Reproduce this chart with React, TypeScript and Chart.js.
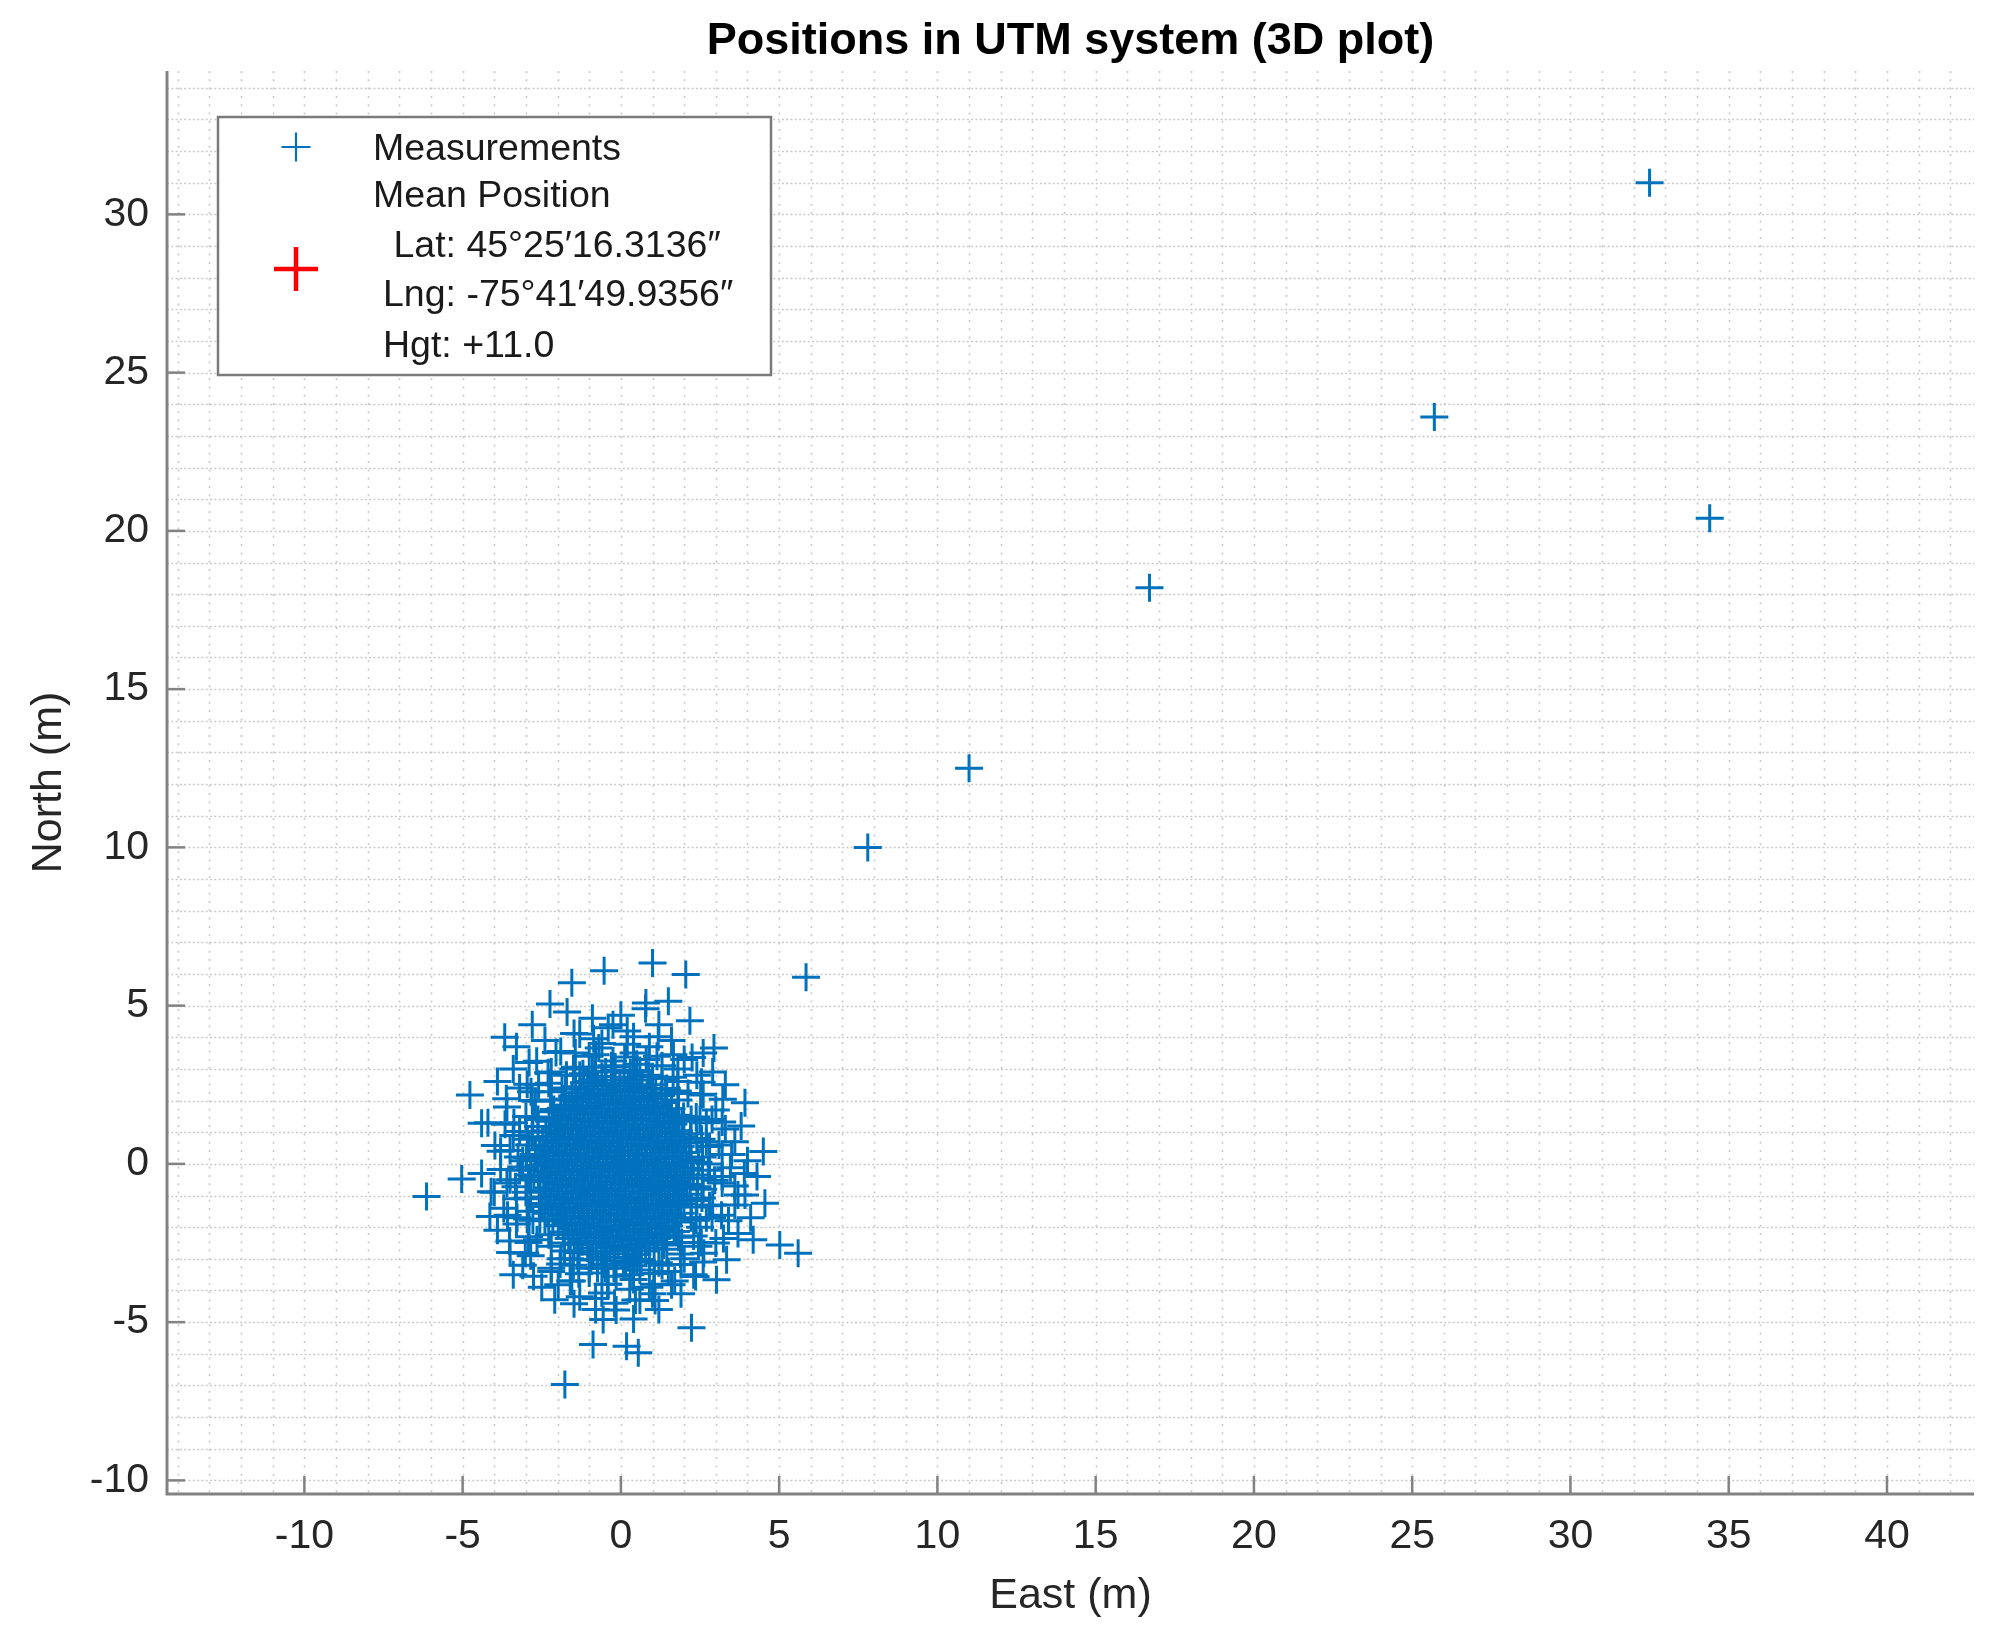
import React, { useEffect, useRef } from 'react';
import { Chart, registerables } from 'chart.js';

Chart.register(...registerables);

const FONT = '"Liberation Sans", Arial, Helvetica, sans-serif';

const TITLE = 'Positions in UTM system (3D plot)';
const X_LABEL = 'East (m)';
const Y_LABEL = 'North (m)';
const X_TICKS = [-10, -5, 0, 5, 10, 15, 20, 25, 30, 35, 40];
const Y_TICKS = [-10, -5, 0, 5, 10, 15, 20, 25, 30];
const X_RANGE = [-14.34, 42.75];
const Y_RANGE = [-10.43, 34.53];

const SERIES_MEAS = 'Measurements';
const SERIES_MEAN = 'Mean Position';
const MEAN_DETAILS = [' Lat: 45°25′16.3136″', 'Lng: -75°41′49.9356″', 'Hgt: +11.0'];

// Mean position (plotted at the origin of the local East/North frame)
const MEAN_POSITION: [number, number][] = [[0, 0]];

// Drifting measurements that left the cluster
const TRAIL_POINTS: [number, number][] = [
  [5.85, 5.9], [7.8, 10.0], [11.0, 12.5], [16.7, 18.2], [25.7, 23.6], [32.5, 31.0], [34.4, 20.4],
];

// Dense core of the measurement cloud (estimated)
const CLUSTER_CORE: [number, number][] = [
  [-0.6, 2.76], [0.1, 2.74],
  [-0.9, 2.66], [-0.2, 2.64], [0.5, 2.65],
  [-1.17, 2.56], [-0.47, 2.54], [0.23, 2.55],
  [-1.43, 2.44], [-0.73, 2.46], [-0.03, 2.45], [0.67, 2.44],
  [-1.0, 2.36], [-0.3, 2.34], [0.4, 2.35], [1.1, 2.36],
  [-1.27, 2.25], [-0.57, 2.24], [0.13, 2.26], [0.83, 2.25],
  [-1.54, 2.14], [-0.84, 2.16], [-0.14, 2.15], [0.57, 2.14], [1.27, 2.16],
  [-1.8, 2.05], [-1.1, 2.06], [-0.4, 2.04], [0.3, 2.05], [1.0, 2.06],
  [-1.37, 1.96], [-0.67, 1.94], [0.03, 1.95], [0.73, 1.96], [1.43, 1.94],
  [-1.64, 1.85], [-0.94, 1.84], [-0.24, 1.86], [0.46, 1.85], [1.16, 1.84],
  [-1.9, 1.76], [-1.2, 1.75], [-0.5, 1.74], [0.2, 1.75], [0.9, 1.76], [1.6, 1.74],
  [-2.17, 1.65], [-1.47, 1.66], [-0.77, 1.64], [-0.07, 1.65], [0.63, 1.66], [1.33, 1.64],
  [-1.74, 1.55], [-1.04, 1.56], [-0.34, 1.54], [0.36, 1.55], [1.06, 1.56], [1.76, 1.54],
  [-2.0, 1.46], [-1.3, 1.44], [-0.6, 1.45], [0.1, 1.46], [0.8, 1.44], [1.5, 1.45],
  [-2.27, 1.35], [-1.57, 1.36], [-0.87, 1.34], [-0.17, 1.35], [0.53, 1.36], [1.23, 1.34], [1.93, 1.35],
  [-1.84, 1.25], [-1.14, 1.24], [-0.44, 1.26], [0.26, 1.25], [0.96, 1.24], [1.66, 1.26],
  [-2.1, 1.16], [-1.4, 1.14], [-0.7, 1.15], [0.0, 1.16], [0.7, 1.14], [1.4, 1.15],
  [-2.37, 1.05], [-1.67, 1.06], [-0.97, 1.04], [-0.27, 1.05], [0.43, 1.06], [1.13, 1.04], [1.83, 1.05],
  [-1.94, 0.95], [-1.24, 0.94], [-0.54, 0.96], [0.16, 0.95], [0.86, 0.94], [1.56, 0.96],
  [-2.21, 0.86], [-1.51, 0.84], [-0.81, 0.85], [-0.11, 0.86], [0.59, 0.84], [1.29, 0.85], [1.99, 0.86],
  [-2.47, 0.75], [-1.77, 0.76], [-1.07, 0.74], [-0.37, 0.75], [0.33, 0.76], [1.03, 0.74], [1.73, 0.75],
  [-2.04, 0.66], [-1.34, 0.64], [-0.64, 0.65], [0.06, 0.66], [0.76, 0.64], [1.46, 0.65], [2.16, 0.66],
  [-2.31, 0.55], [-1.61, 0.56], [-0.91, 0.54], [-0.21, 0.55], [0.49, 0.56], [1.19, 0.54], [1.89, 0.55],
  [-2.57, 0.45], [-1.87, 0.44], [-1.17, 0.46], [-0.47, 0.45], [0.23, 0.44], [0.93, 0.46], [1.63, 0.45],
  [-2.14, 0.36], [-1.44, 0.34], [-0.74, 0.35], [-0.04, 0.36], [0.66, 0.34], [1.36, 0.35], [2.06, 0.36],
  [-2.41, 0.25], [-1.71, 0.26], [-1.01, 0.24], [-0.31, 0.25], [0.39, 0.26], [1.09, 0.24], [1.79, 0.25],
  [-2.67, 0.16], [-1.97, 0.14], [-1.27, 0.15], [-0.57, 0.16], [0.12, 0.14], [0.82, 0.15], [1.52, 0.16], [2.22, 0.14],
  [-2.24, 0.05], [-1.54, 0.06], [-0.84, 0.04], [-0.14, 0.05], [0.56, 0.06], [1.26, 0.04], [1.96, 0.05],
  [-2.51, -0.05], [-1.81, -0.04], [-1.11, -0.06], [-0.41, -0.05], [0.29, -0.04], [0.99, -0.06], [1.69, -0.05],
  [-2.08, -0.14], [-1.38, -0.16], [-0.68, -0.15], [0.02, -0.14], [0.72, -0.16], [1.42, -0.15], [2.12, -0.14],
  [-2.34, -0.25], [-1.64, -0.24], [-0.94, -0.26], [-0.24, -0.25], [0.46, -0.24], [1.16, -0.26], [1.86, -0.25],
  [-2.61, -0.36], [-1.91, -0.34], [-1.21, -0.35], [-0.51, -0.36], [0.19, -0.34], [0.89, -0.35], [1.59, -0.36], [2.29, -0.35],
  [-2.18, -0.45], [-1.48, -0.46], [-0.78, -0.44], [-0.08, -0.45], [0.62, -0.46], [1.32, -0.44], [2.02, -0.45],
  [-2.44, -0.56], [-1.74, -0.54], [-1.04, -0.55], [-0.34, -0.56], [0.36, -0.54], [1.06, -0.55], [1.76, -0.56],
  [-2.01, -0.65], [-1.31, -0.64], [-0.61, -0.66], [0.09, -0.65], [0.79, -0.64], [1.49, -0.66], [2.19, -0.65],
  [-2.28, -0.76], [-1.58, -0.74], [-0.88, -0.75], [-0.18, -0.76], [0.52, -0.74], [1.22, -0.75], [1.92, -0.76],
  [-2.55, -0.85], [-1.85, -0.86], [-1.15, -0.84], [-0.45, -0.85], [0.26, -0.86], [0.96, -0.84], [1.66, -0.85],
  [-2.11, -0.96], [-1.41, -0.94], [-0.71, -0.95], [-0.01, -0.96], [0.69, -0.94], [1.39, -0.95], [2.09, -0.96],
  [-2.38, -1.05], [-1.68, -1.06], [-0.98, -1.04], [-0.28, -1.05], [0.42, -1.06], [1.12, -1.04], [1.82, -1.05],
  [-1.95, -1.15], [-1.25, -1.14], [-0.55, -1.16], [0.15, -1.15], [0.85, -1.14], [1.55, -1.16],
  [-2.21, -1.26], [-1.51, -1.24], [-0.81, -1.25], [-0.11, -1.26], [0.59, -1.24], [1.29, -1.25], [1.99, -1.26],
  [-2.48, -1.35], [-1.78, -1.36], [-1.08, -1.34], [-0.38, -1.35], [0.32, -1.36], [1.02, -1.34], [1.72, -1.35],
  [-2.05, -1.45], [-1.35, -1.44], [-0.65, -1.46], [0.05, -1.45], [0.75, -1.44], [1.45, -1.46],
  [-2.31, -1.56], [-1.61, -1.54], [-0.91, -1.55], [-0.21, -1.56], [0.49, -1.54], [1.19, -1.55], [1.89, -1.56],
  [-1.88, -1.65], [-1.18, -1.66], [-0.48, -1.64], [0.22, -1.65], [0.92, -1.66], [1.62, -1.64],
  [-2.15, -1.76], [-1.45, -1.74], [-0.75, -1.75], [-0.05, -1.76], [0.65, -1.74], [1.35, -1.75],
  [-1.72, -1.85], [-1.02, -1.86], [-0.32, -1.84], [0.39, -1.85], [1.09, -1.86], [1.79, -1.84],
  [-1.98, -1.95], [-1.28, -1.94], [-0.58, -1.96], [0.12, -1.95], [0.82, -1.94], [1.52, -1.96],
  [-1.55, -2.06], [-0.85, -2.04], [-0.15, -2.05], [0.55, -2.06], [1.25, -2.04],
  [-1.82, -2.15], [-1.12, -2.16], [-0.42, -2.14], [0.28, -2.15], [0.98, -2.16], [1.68, -2.14],
  [-1.38, -2.25], [-0.68, -2.24], [0.02, -2.26], [0.72, -2.25], [1.42, -2.24],
  [-1.65, -2.36], [-0.95, -2.34], [-0.25, -2.35], [0.45, -2.36], [1.15, -2.34],
  [-1.22, -2.45], [-0.52, -2.46], [0.18, -2.44], [0.88, -2.45],
  [-1.48, -2.55], [-0.78, -2.54], [-0.08, -2.56], [0.62, -2.55], [1.32, -2.54],
  [-1.05, -2.66], [-0.35, -2.64], [0.35, -2.65], [1.05, -2.66],
  [-1.32, -2.75], [-0.62, -2.76], [0.08, -2.74], [0.78, -2.75],
  [-0.89, -2.85], [-0.19, -2.84], [0.52, -2.86],
  [-0.45, -2.95], [0.25, -2.96],
  [-0.95, -3.04], [-0.2, -3.06], [0.5, -3.05],
  [-0.55, -3.16], [0.15, -3.15],
];

// Heavily overlapping measurements surrounding the core (estimated)
const CLUSTER_RING: [number, number][] = [
  [2.45, 0.05], [2.2, 0.95], [1.98, 1.5], [1.42, 2.22], [0.95, 2.5], [0.3, 2.88], [-0.48, 2.9], [-1.05, 2.6],
  [-1.75, 2.36], [-2.12, 1.72], [-2.62, 1.18], [-2.7, 0.3], [-2.85, -0.35], [-2.58, -1.25], [-2.4, -1.8], [-1.8, -2.5],
  [-1.36, -2.8], [-0.6, -3.2], [0.08, -3.08], [0.64, -3.02], [1.35, -2.56], [1.74, -2.14], [2.22, -1.36], [2.42, -0.72],
  [2.8, 0.55], [2.7, 1.3], [2.12, 2.22], [1.65, 2.74], [0.8, 3.3], [0.12, 3.38], [-0.8, 3.45], [-1.45, 3.05],
  [-2.28, 2.55], [-2.7, 1.98], [-3.2, 1.02], [-3.25, 0.22], [-3.33, -0.72], [-2.96, -1.74], [-2.65, -2.4], [-1.92, -3.16],
  [-1.33, -3.47], [-0.42, -3.8], [0.4, -3.65], [1.06, -3.46], [1.88, -2.85], [2.3, -2.28], [2.8, -1.32], [2.96, -0.52],
  [2.76, -0.2], [2.55, 0.78], [2.38, 1.48], [1.8, 2.3], [1.3, 2.7], [0.5, 3.15], [-0.25, 3.25], [-0.9, 3.05],
  [-1.72, 2.8], [-2.2, 2.28], [-2.78, 1.48], [-2.95, 0.78], [-3.15, -0.1], [-2.96, -1.08], [-2.78, -1.78], [-2.2, -2.6],
  [-1.6, -3.0], [-1.0, -3.45], [-0.15, -3.55], [0.6, -3.35], [1.2, -3.12], [1.92, -2.48], [2.38, -1.78], [2.56, -1.08],
  [3.2, 0.3], [2.88, 1.4], [2.52, 2.18], [1.8, 3.0], [1.14, 3.4], [0.2, 3.78], [-0.7, 3.66], [-1.44, 3.5],
  [-2.3, 2.88], [-2.84, 2.28], [-3.38, 1.3], [-3.5, 0.42], [-3.6, -0.6], [-3.28, -1.7], [-2.92, -2.48], [-2.2, -3.3],
  [-1.55, -3.7], [-0.6, -4.08], [0.28, -3.96], [1.04, -3.8], [1.9, -3.18], [2.54, -2.48], [2.88, -1.7], [3.2, -0.6],
  [3.6, 0.7], [3.22, 2.04], [2.25, 3.36], [1.18, 4.02], [-0.25, 4.4], [-1.48, 4.12], [-2.66, 3.24], [-3.62, 2.06],
  [-3.98, 0.58], [-4.1, -0.88], [-3.52, -2.44], [-2.76, -3.55], [-1.48, -4.42], [-0.15, -4.62], [1.08, -4.32], [2.36, -3.56],
  [3.24, -2.36], [3.7, -0.98],
  [2.58, 0.22], [2.4, 0.8], [2.22, 1.4], [1.82, 2.02], [1.45, 2.38], [0.88, 2.8], [0.4, 2.92], [-0.18, 3.06],
  [-0.8, 2.92], [-1.3, 2.8], [-1.86, 2.4], [-2.22, 2.02], [-2.62, 1.4], [-2.8, 0.86], [-2.98, 0.2], [-2.92, -0.5],
  [-2.85, -1.1], [-2.56, -1.76], [-2.28, -2.24], [-1.78, -2.75], [-1.35, -3.02], [-0.74, -3.3], [-0.22, -3.3], [0.4, -3.22],
  [0.9, -3.1], [1.45, -2.7], [1.82, -2.32], [2.22, -1.7], [2.4, -1.16], [2.58, -0.45],
  [3.46, -0.12], [3.2, 1.32], [2.55, 2.58], [1.66, 3.45], [0.4, 4.02], [-0.86, 3.95], [-2.05, 3.52], [-2.96, 2.52],
  [-3.66, 1.25], [-3.8, -0.18], [-3.58, -1.62], [-3.02, -2.82], [-1.98, -3.82], [-0.8, -4.25], [0.46, -4.3], [1.6, -3.82],
  [2.62, -2.82], [3.18, -1.62],
];

// Scattered measurements at the edge of the cloud (estimated)
const CLUSTER_FRINGE: [number, number][] = [
  [-2.4, 3.9], [-1.9, 3.55], [-1.3, 4.1], [-0.6, 3.8], [0.2, 4.2], [0.9, 3.7], [1.6, 3.9], [2.0, 3.3],
  [-2.9, 3.2], [-1.5, 3.0], [-0.3, 3.1], [0.6, 2.95], [1.3, 3.1], [-2.2, 2.9], [2.4, 2.8], [-1.0, 3.4],
  [0.4, 3.5], [-3.3, 3.7], [-2.8, 4.4], [-0.9, 4.6], [0.0, 4.7], [1.2, 4.4], [-1.7, 4.8], [1.8, 2.6],
  [-2.6, 2.5], [2.6, 3.5], [-0.2, 2.95], [-1.2, 2.85], [1.0, 2.75], [-0.4, 4.3],
  [1.0, 6.35], [-0.53, 6.1], [2.05, 5.98], [-1.55, 5.72], [-2.24, 5.05], [0.79, 5.08], [0.78, 4.9],
  [1.5, 5.14], [2.18, 4.52], [2.94, 3.66], [-3.67, 4.0],
  [-3.2, 2.4], [-3.6, 1.8], [-3.0, 1.5], [-3.4, 0.9], [-3.8, 0.4], [-3.1, 0.1], [-3.5, -0.5], [-3.0, -0.9],
  [-3.7, -1.4], [-3.3, -1.9], [-2.9, -2.3], [-3.5, -2.8], [-3.1, -3.2], [-2.8, 1.0], [-2.9, -1.5], [-4.0, -0.9],
  [-3.9, 2.6], [-4.2, 1.3], [-2.9, 0.6], [-3.2, -0.2], [-4.4, -0.3], [-3.9, -2.1], [-3.4, 3.0], [-2.8, 2.0],
  [-2.85, -2.9], [-3.3, -1.1], [-2.75, -0.4],
  [-4.77, 2.18], [-4.4, 1.28], [-5.03, -0.48], [-6.14, -1.03], [-4.14, -1.66], [-3.4, -3.5],
  [2.6, 2.2], [3.0, 1.7], [2.5, 1.4], [3.3, 1.1], [2.7, 0.7], [3.5, 0.3], [2.8, 0.0], [3.2, -0.4],
  [2.6, -0.8], [3.6, -0.7], [2.9, -1.3], [3.4, -1.8], [2.5, -2.0], [3.0, -2.5], [2.6, -3.1], [3.7, -2.2],
  [4.0, 0.1], [3.8, 1.2], [3.3, 2.5], [2.9, 2.9], [4.3, -0.4], [3.6, -1.3], [4.1, -1.7], [2.7, -1.7],
  [3.1, 0.6], [2.45, -2.6], [3.9, -0.3],
  [3.92, 1.93], [4.5, 0.39], [3.92, -0.98], [4.55, -1.24], [4.18, -2.4], [5.02, -2.56], [5.6, -2.82],
  [3.34, -3.03], [3.02, -3.66],
  [-2.2, -3.4], [-1.6, -3.7], [-1.0, -3.3], [-0.4, -3.8], [0.3, -3.5], [0.9, -3.9], [1.5, -3.4], [2.0, -3.0],
  [-1.3, -4.2], [-0.2, -4.4], [0.6, -4.3], [1.2, -4.6], [1.9, -4.1], [-2.5, -3.9], [-0.8, -4.6], [0.1, -3.2],
  [1.7, -3.7], [-1.9, -3.0], [2.3, -3.5], [0.4, -4.9], [1.0, -4.1], [-0.5, -3.3], [1.3, -3.2], [-1.5, -3.2],
  [-2.09, -4.29], [2.23, -5.18], [-0.88, -5.71], [0.18, -5.76], [0.55, -5.97], [-1.77, -6.97], [-0.56, -4.92],
];

const BLUE = '#0072BD';
const RED = '#FF0000';
const AXIS_GRAY = '#828282';
const GRID_GRAY = '#c9c9c9';
const TEXT_DARK = '#262626';

function toXY(list: [number, number][]) {
  return list.map(([x, y]) => ({ x, y }));
}

function drawPlus(ctx: CanvasRenderingContext2D, cx: number, cy: number, r: number, w: number, color: string) {
  ctx.save();
  ctx.strokeStyle = color;
  ctx.lineWidth = w;
  ctx.beginPath();
  ctx.moveTo(cx - r, cy);
  ctx.lineTo(cx + r, cy);
  ctx.moveTo(cx, cy - r);
  ctx.lineTo(cx, cy + r);
  ctx.stroke();
  ctx.restore();
}

const axesPlugin = {
  id: 'matlabAxes',
  beforeDatasetsDraw(chart: any) {
    const { ctx, chartArea: a, scales } = chart;
    const xs = scales.x;
    const ys = scales.y;
    ctx.save();
    ctx.strokeStyle = GRID_GRAY;
    ctx.lineWidth = 1.6;
    // horizontal minor grid (every 1 m)
    ctx.setLineDash([2, 2.3]);
    for (let v = Math.ceil(ys.min); v <= Math.floor(ys.max); v++) {
      const py = Math.round(ys.getPixelForValue(v)) + 0.5;
      if (py >= a.bottom - 2) continue;
      ctx.beginPath();
      ctx.moveTo(a.left, py);
      ctx.lineTo(a.right, py);
      ctx.stroke();
    }
    // vertical minor grid (every 1 m)
    ctx.setLineDash([2, 6.3]);
    for (let v = Math.ceil(xs.min); v <= Math.floor(xs.max); v++) {
      const px = Math.round(xs.getPixelForValue(v)) + 0.5;
      if (px <= a.left + 2) continue;
      ctx.beginPath();
      ctx.moveTo(px, a.top);
      ctx.lineTo(px, a.bottom);
      ctx.stroke();
    }
    ctx.setLineDash([]);
    // axis lines
    ctx.strokeStyle = AXIS_GRAY;
    ctx.lineWidth = 3;
    ctx.beginPath();
    ctx.moveTo(a.left, a.top);
    ctx.lineTo(a.left, a.bottom);
    ctx.lineTo(a.right, a.bottom);
    ctx.stroke();
    // inward tick marks
    ctx.lineWidth = 2.5;
    for (const v of X_TICKS) {
      const px = xs.getPixelForValue(v);
      ctx.beginPath();
      ctx.moveTo(px, a.bottom);
      ctx.lineTo(px, a.bottom - 18);
      ctx.stroke();
    }
    for (const v of Y_TICKS) {
      const py = ys.getPixelForValue(v);
      ctx.beginPath();
      ctx.moveTo(a.left, py);
      ctx.lineTo(a.left + 18, py);
      ctx.stroke();
    }
    ctx.restore();
  },
};

const legendPlugin = {
  id: 'matlabLegend',
  afterDatasetsDraw(chart: any) {
    const { ctx, chartArea: a } = chart;
    const x0 = a.left + 51;
    const y0 = a.top + 46;
    const w = 553;
    const h = 258;
    ctx.save();
    ctx.fillStyle = '#ffffff';
    ctx.fillRect(x0, y0, w, h);
    ctx.strokeStyle = '#7a7a7a';
    ctx.lineWidth = 2.5;
    ctx.strokeRect(x0, y0, w, h);
    drawPlus(ctx, x0 + 78, y0 + 30, 14.5, 2.2, BLUE);
    drawPlus(ctx, x0 + 78, y0 + 152, 22, 4.5, RED);
    ctx.fillStyle = '#1a1a1a';
    ctx.font = `37.5px ${FONT}`;
    ctx.textBaseline = 'alphabetic';
    ctx.textAlign = 'left';
    ctx.fillText(SERIES_MEAS, x0 + 155, y0 + 43);
    ctx.fillText(SERIES_MEAN, x0 + 155, y0 + 90);
    const baselines = [140, 189, 240];
    MEAN_DETAILS.forEach((t, i) => ctx.fillText(t, x0 + 165, y0 + baselines[i]));
    ctx.restore();
  },
};

export default function App() {
  const canvasRef = useRef<HTMLCanvasElement | null>(null);

  useEffect(() => {
    const canvas = canvasRef.current;
    if (!canvas) return;
    const measurements = [...TRAIL_POINTS, ...CLUSTER_FRINGE, ...CLUSTER_RING, ...CLUSTER_CORE];
    const chart = new Chart(canvas, {
      type: 'scatter',
      data: {
        datasets: [
          {
            label: SERIES_MEAS,
            data: toXY(measurements),
            pointStyle: 'cross',
            pointRadius: 14,
            pointBorderWidth: 3,
            pointBorderColor: BLUE,
            pointBackgroundColor: BLUE,
            showLine: false,
            order: 0,
          },
          {
            label: SERIES_MEAN,
            data: toXY(MEAN_POSITION),
            pointStyle: 'cross',
            pointRadius: 22,
            pointBorderWidth: 4.5,
            pointBorderColor: RED,
            pointBackgroundColor: RED,
            showLine: false,
            order: 1,
          },
        ],
      },
      options: {
        animation: false,
        responsive: false,
        events: [],
        layout: { padding: { left: 0, right: 38, top: 0, bottom: 0 } },
        plugins: {
          legend: { display: false },
          tooltip: { enabled: false },
          title: {
            display: true,
            text: TITLE,
            fullSize: false,
            color: '#000000',
            font: { family: FONT, size: 45, weight: 'bold' },
            padding: { top: 15, bottom: 2 },
          },
        },
        scales: {
          x: {
            type: 'linear',
            min: X_RANGE[0],
            max: X_RANGE[1],
            afterBuildTicks: (s: any) => {
              s.ticks = X_TICKS.map((v) => ({ value: v }));
            },
            afterFit: (s: any) => {
              s.height = 146;
            },
            grid: { display: false, drawTicks: false },
            border: { display: false },
            ticks: {
              autoSkip: false,
              maxRotation: 0,
              padding: 18,
              color: TEXT_DARK,
              font: { family: FONT, size: 41 },
            },
            title: {
              display: true,
              text: X_LABEL,
              color: TEXT_DARK,
              font: { family: FONT, size: 43 },
              padding: { top: 0, bottom: 18 },
            },
          },
          y: {
            type: 'linear',
            min: Y_RANGE[0],
            max: Y_RANGE[1],
            afterBuildTicks: (s: any) => {
              s.ticks = Y_TICKS.map((v) => ({ value: v }));
            },
            afterFit: (s: any) => {
              s.width = 167;
            },
            grid: { display: false, drawTicks: false },
            border: { display: false },
            ticks: {
              autoSkip: false,
              padding: 18,
              color: TEXT_DARK,
              font: { family: FONT, size: 41 },
            },
            title: {
              display: true,
              text: Y_LABEL,
              color: TEXT_DARK,
              font: { family: FONT, size: 43 },
              padding: { top: 23, bottom: 0 },
            },
          },
        },
      },
      plugins: [axesPlugin, legendPlugin],
    } as any);
    return () => chart.destroy();
  }, []);

  return (
    <div style={{ position: 'absolute', left: 0, top: 0, width: 2012, height: 1640, background: '#ffffff' }}>
      <canvas ref={canvasRef} width={2012} height={1640} style={{ display: 'block', width: 2012, height: 1640 }} />
    </div>
  );
}
